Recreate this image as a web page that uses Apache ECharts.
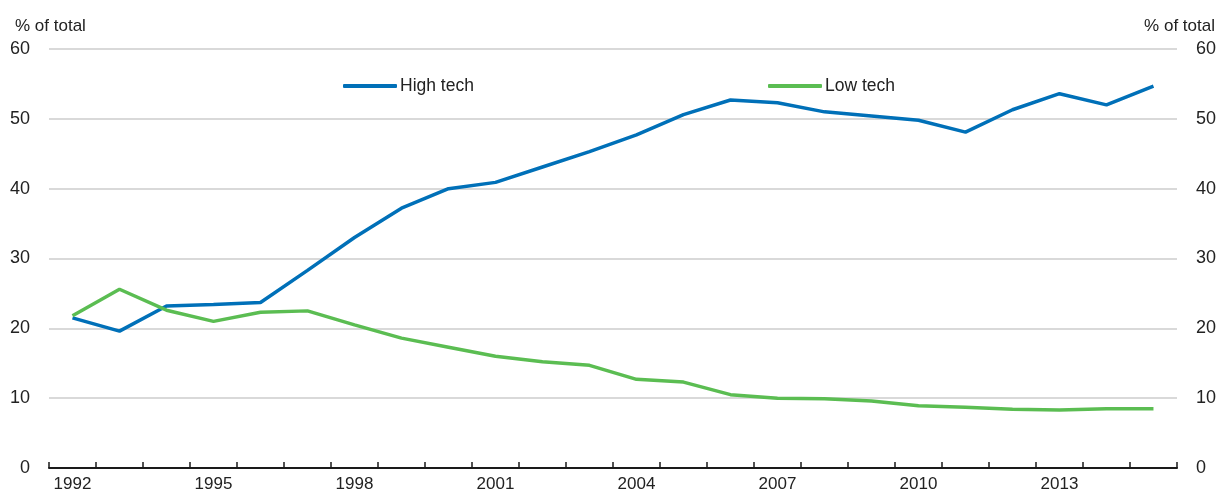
<!DOCTYPE html>
<html>
<head>
<meta charset="utf-8">
<script src="https://cdn.jsdelivr.net/npm/echarts@6/dist/echarts.min.js"></script>
<style>
  html, body { margin: 0; padding: 0; background: #fff; }
  #chart { width: 1219px; height: 494px; }
</style>
</head>
<body>
<div id="chart"></div>
<script>
// years on the x axis
const years = ['1992', '1993', '1994', '1995', '1996', '1997', '1998', '1999', '2000', '2001', '2002', '2003',
  '2004', '2005', '2006', '2007', '2008', '2009', '2010', '2011', '2012', '2013', '2014', '2015']
// % of total
const highTech = [21.5, 19.6, 23.2, 23.4, 23.7, 28.3, 33.0, 37.2, 40.0, 40.9, 43.1, 45.3,
  47.7, 50.6, 52.7, 52.3, 51.0, 50.4, 49.8, 48.1, 51.3, 53.6, 52.0, 54.7]
const lowTech = [21.8, 25.6, 22.6, 21.0, 22.3, 22.5, 20.5, 18.6, 17.3, 16.0, 15.2, 14.7,
  12.7, 12.3, 10.5, 10.0, 9.9, 9.6, 8.9, 8.7, 8.4, 8.3, 8.5, 8.5]

const font = '"Liberation Sans", Arial, sans-serif'
const blue = '#0070b8'
const green = '#5bbd52'

const chart = echarts.init(document.getElementById('chart'))

const yAxisBase = {
  type: 'value',
  min: 0,
  max: 60,
  interval: 10,
  name: '% of total',
  nameGap: 14,
  nameTextStyle: { color: '#222', fontSize: 17, fontFamily: font },
  axisLine: { show: false },
  axisTick: { show: false },
  axisLabel: { color: '#222', fontSize: 18, fontFamily: font, margin: 19 }
}

const legendBase = {
  top: 72,
  itemWidth: 54, itemHeight: 4, itemGap: 4,
  icon: 'roundRect',
  textStyle: { color: '#222', fontSize: 17.5, fontFamily: font, padding: [0, 0, 0, -2] }
}

const option = {
  animation: false,
  backgroundColor: '#fff',
  legend: [
    Object.assign({ data: ['High tech'], left: 338 }, legendBase),
    Object.assign({ data: ['Low tech'], left: 763 }, legendBase)
  ],
  grid: { left: 49, right: 41, top: 49, bottom: 26 },
  xAxis: {
    type: 'category',
    data: years,
    boundaryGap: true,
    axisLine: { lineStyle: { color: '#1a1a1a', width: 2 } },
    axisTick: { show: true, inside: true, length: 6, interval: 0, lineStyle: { color: '#1a1a1a', width: 1.5 } },
    axisLabel: { interval: 2, color: '#222', fontSize: 17, fontFamily: font, margin: 8 },
    splitLine: { show: false }
  },
  yAxis: [
    Object.assign({}, yAxisBase, {
      position: 'left',
      nameLocation: 'end',
      nameTextStyle: Object.assign({}, yAxisBase.nameTextStyle, { align: 'left', padding: [0, 0, 0, -34] }),
      splitLine: { show: true, lineStyle: { color: '#cccccc', width: 1.5 } }
    }),
    Object.assign({}, yAxisBase, {
      position: 'right',
      nameLocation: 'end',
      nameTextStyle: Object.assign({}, yAxisBase.nameTextStyle, { align: 'right', padding: [0, -38, 0, 0] }),
      splitLine: { show: false }
    })
  ],
  series: [
    {
      name: 'High tech',
      type: 'line',
      data: highTech,
      symbol: 'none',
      color: blue,
      lineStyle: { width: 3.5, color: blue },
      z: 3
    },
    {
      name: 'Low tech',
      type: 'line',
      data: lowTech,
      symbol: 'none',
      color: green,
      lineStyle: { width: 3.5, color: green },
      z: 4
    }
  ]
}

chart.setOption(option)
window.addEventListener('resize', () => chart.resize())
</script>
</body>
</html>
